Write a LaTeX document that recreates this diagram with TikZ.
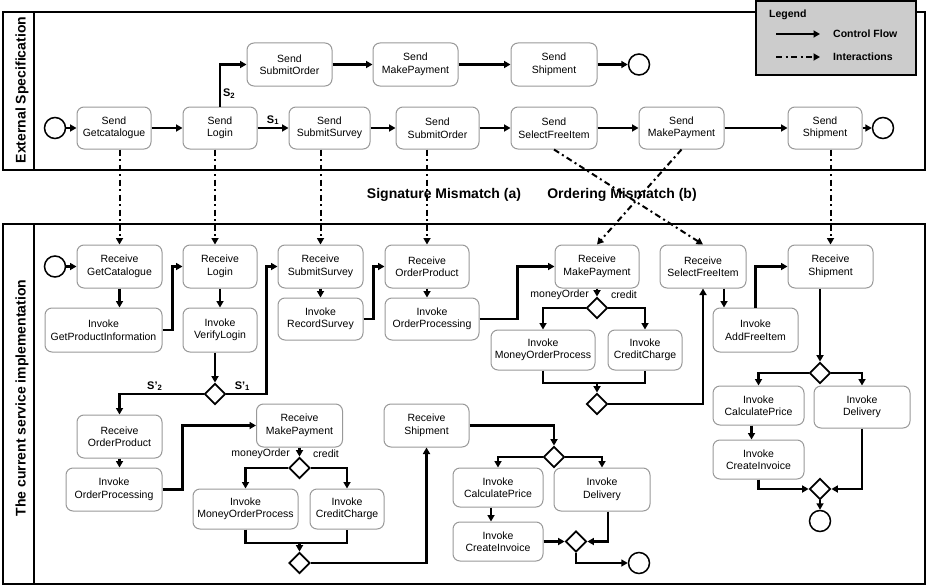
\documentclass[tikz,border=0pt]{standalone}
\usepackage{fontspec}
\setmainfont{Liberation Sans}
\usepackage{tikz}
\usetikzlibrary{positioning}
\usetikzlibrary{shapes.geometric}
\usetikzlibrary{arrows.meta}

\begin{document}
\begin{tikzpicture}[x = 1pt, y = -1pt,
box/.style={draw = black!40, line width = 1pt, fill = white, rounded corners = 7pt, align = center, inner sep = 0pt, minimum height = 42pt, font = \fontsize{10.5}{12.5}\selectfont},
gw/.style={diamond, draw, line width = 1.8pt, fill = white, minimum size = 21pt, inner sep = 0pt},
ev/.style={circle, draw, line width = 1.5pt, fill = white, minimum size = 21pt, inner sep = 0pt},
flow/.style={line width = 2.2pt, -{Triangle[length = 6.5pt, width = 7pt]}},
conn/.style={line width = 2.2pt},
inter/.style={line width = 2pt, dash pattern = on 6pt off 3.5pt on 2pt off 3.5pt, -{Triangle[length = 6.5pt, width = 7pt]}},
lbl/.style={inner sep = 0pt, font = \fontsize{10.5}{12.5}\selectfont},
sl/.style={inner sep = 2pt, font = \bfseries\fontsize{11}{13}\selectfont},
lane/.style={inner sep = 0pt, font = \bfseries\fontsize{14}{16}\selectfont},
lg/.style={inner sep = 0pt, font = \bfseries\fontsize{10.5}{12.5}\selectfont}]
\useasboundingbox (0,0) rectangle (926,586);

\draw[line width = 2pt] (3,12) rectangle (925,170);
\draw[line width = 2pt] (34,12) -- (34,170);
\draw[line width = 2pt] (3,224) rectangle (925,584);
\draw[line width = 2pt] (34,224) -- (34,584);
\node[lane, rotate = 90] (laneExt) at (22,90) {External Specification};
\node[lane, rotate = 90] (laneImpl) at (22,398) {The current service implementation};

\draw[line width = 1.2pt, fill = black!20] (756,1) rectangle (916,75);
\node[lg, anchor = west] (lgTitle) at (769,15) {Legend};
\node[lg, anchor = west] (lgFlow) at (833,34) {Control Flow};
\node[lg, anchor = west] (lgInter) at (833,57) {Interactions};
\draw[flow] ([xshift = -57pt]lgFlow.west) -- ([xshift = -13pt]lgFlow.west);
\draw[inter] ([xshift = -57pt]lgInter.west) -- ([xshift = -13pt]lgInter.west);

\node[ev] (es) at (55,128) {};
\node[box, minimum width = 74pt] (sGet) at (114,128) {Send\\Getcatalogue};
\node[box, minimum width = 74pt] (sLogin) at (220,128) {Send\\Login};
\node[box, minimum width = 81pt] (sSurvey) at (329.5,128) {Send\\SubmitSurvey};
\node[box, minimum width = 83pt] (sOrder) at (437.5,128) {Send\\SubmitOrder};
\node[box, minimum width = 86pt] (sFree) at (554,128) {Send\\SelectFreeItem};
\node[box, minimum width = 85pt] (sPay) at (681.5,128) {Send\\MakePayment};
\node[box, minimum width = 74pt] (sShip) at (825,128) {Send\\Shipment};
\node[ev] (ee) at (883,128) {};
\node[box, minimum width = 85pt, minimum height = 43pt] (sOrder2) at (289.5,64.5) {Send\\SubmitOrder};
\node[box, minimum width = 85pt, minimum height = 43pt] (sPay2) at (415.5,64.5) {Send\\MakePayment};
\node[box, minimum width = 86pt, minimum height = 43pt] (sShip2) at (554,64.5) {Send\\Shipment};
\node[ev] (ee2) at (639,64.5) {};

\draw[flow] (es) -- (sGet);
\draw[flow] (sGet) -- (sLogin);
\draw[flow] (sLogin) -- node[sl, above] {S\textsubscript{1}} (sSurvey);
\draw[flow] (sSurvey) -- (sOrder);
\draw[flow] (sOrder) -- (sFree);
\draw[flow] (sFree) -- (sPay);
\draw[flow] (sPay) -- (sShip);
\draw[flow] (sShip) -- (ee);
\draw[flow] (sLogin.north) |- node[sl, right, pos = .15] {S\textsubscript{2}} (sOrder2);
\draw[flow] (sOrder2) -- (sPay2);
\draw[flow] (sPay2) -- (sShip2);
\draw[flow] (sShip2) -- (ee2);

\node[lane] (sigMis) at (444,195) {Signature Mismatch (a)};
\node[lane] (ordMis) at (622,195) {Ordering Mismatch (b)};

\node[ev] (is) at (55,266.5) {};
\node[box, minimum width = 85pt, minimum height = 43pt] (rGet) at (119.5,266.5) {Receive\\GetCatalogue};
\node[box, minimum width = 117pt, minimum height = 44pt] (iGPI) at (103.5,330) {Invoke\\GetProductInformation};
\node[box, minimum width = 74pt, minimum height = 43pt] (rLogin) at (220,266.5) {Receive\\Login};
\node[box, minimum width = 74pt, minimum height = 44pt] (iVerify) at (220,330) {Invoke\\VerifyLogin};
\node[gw] (dLogin) at (215,394) {};
\node[box, minimum width = 85pt, minimum height = 43pt] (rSurvey) at (320.5,266.5) {Receive\\SubmitSurvey};
\node[box, minimum width = 85pt] (iRecord) at (320.5,319) {Invoke\\RecordSurvey};
\node[box, minimum width = 84pt, minimum height = 43pt] (rOrder) at (427,266.5) {Receive\\OrderProduct};
\node[box, minimum width = 94pt] (iOrderProc) at (432,319) {Invoke\\OrderProcessing};
\node[box, minimum width = 84pt, minimum height = 43pt] (rPay) at (597,266.5) {Receive\\MakePayment};
\node[gw] (dPay) at (597,308) {};
\node[lbl, anchor = east] (moPay) at (589,295) {moneyOrder};
\node[lbl, anchor = west] (crPay) at (611,295) {credit};
\node[box, minimum width = 104pt, minimum height = 40pt] (iMOP) at (543,350) {Invoke\\MoneyOrderProcess};
\node[box, minimum width = 74pt, minimum height = 40pt] (iCC) at (645,350) {Invoke\\CreditCharge};
\coordinate (jPay) at (597,383);
\node[gw] (dPayJ) at (597,404) {};
\node[box, minimum width = 86pt, minimum height = 43pt] (rFree) at (703,266.5) {Receive\\SelectFreeItem};
\node[box, minimum width = 85pt, minimum height = 44pt] (iAdd) at (755.5,330) {Invoke\\AddFreeItem};
\node[box, minimum width = 85pt, minimum height = 43pt] (rShip) at (830.5,266.5) {Receive\\Shipment};
\node[gw] (dShip) at (820,373) {};
\node[box, minimum width = 91pt, minimum height = 39pt] (iCalc) at (758.5,405.5) {Invoke\\CalculatePrice};
\node[box, minimum width = 96pt] (iDel) at (862,407) {Invoke\\Delivery};
\node[box, minimum width = 91pt, minimum height = 39pt] (iInv) at (758.5,459.5) {Invoke\\CreateInvoice};
\node[gw] (dShipJ) at (820,489) {};
\node[ev] (ie) at (820,521) {};

\node[box, minimum width = 85pt, minimum height = 43pt] (rOrder2) at (119.5,436.5) {Receive\\OrderProduct};
\node[box, minimum width = 96pt, minimum height = 43pt] (iOrderProc2) at (114,489.5) {Invoke\\OrderProcessing};
\node[box, minimum width = 86pt, minimum height = 43pt] (rPay2) at (299.5,425.5) {Receive\\MakePayment};
\node[gw] (dPay2) at (299.5,468) {};
\node[lbl, anchor = east] (moPay2) at (290,454) {moneyOrder};
\node[lbl, anchor = west] (crPay2) at (313,454) {credit};
\node[box, minimum width = 105pt, minimum height = 40pt] (iMOP2) at (245.5,509) {Invoke\\MoneyOrderProcess};
\node[box, minimum width = 74pt, minimum height = 40pt] (iCC2) at (347,509) {Invoke\\CreditCharge};
\coordinate (jPay2) at (299.5,543);
\node[gw] (dPay2J) at (299.5,563) {};
\node[box, minimum width = 85pt, minimum height = 43pt] (rShip2) at (426.5,425.5) {Receive\\Shipment};
\node[gw] (dShip2) at (554,457) {};
\node[box, minimum width = 90pt, minimum height = 39pt] (iCalc2) at (498,487.5) {Invoke\\CalculatePrice};
\node[box, minimum width = 96pt, minimum height = 43pt] (iDel2) at (602,489.5) {Invoke\\Delivery};
\node[box, minimum width = 90pt, minimum height = 39pt] (iInv2) at (498,541.5) {Invoke\\CreateInvoice};
\node[gw] (dShip2J) at (576,541.5) {};
\node[ev] (ie2) at (639,563) {};

\draw[inter] (rGet.north |- sGet.south) -- (rGet);
\draw[inter] (sLogin.south -| dLogin) -- (rLogin.north -| dLogin);
\draw[inter] (rSurvey.north |- sSurvey.south) -- (rSurvey);
\draw[inter] (rOrder.north |- sOrder.south) -- (rOrder);
\draw[inter] (sFree.south) -- (rFree.north);
\draw[inter] (sPay.south) -- (rPay.north);
\draw[inter] (rShip.north |- sShip.south) -- (rShip);

\draw[flow] (is) -- (rGet);
\draw[flow] (rGet) -- (rGet |- iGPI.north);
\draw[flow] (iGPI.east) -- ++(10,0) |- (rLogin);
\draw[flow] (rLogin) -- (iVerify);
\draw[flow] (iVerify.south -| dLogin) -- (dLogin);
\draw[flow] (dLogin.east) -- node[sl, above, pos = .4] {S’\textsubscript{1}} ++(40,0) |- (rSurvey);
\draw[flow] (dLogin.west) -| node[sl, above, pos = .29] {S’\textsubscript{2}} (rOrder2);
\draw[flow] (rSurvey) -- (iRecord);
\draw[flow] (iRecord.east) -- ++(10,0) |- (rOrder);
\draw[flow] (rOrder) -- (rOrder |- iOrderProc.north);
\draw[flow] (iOrderProc.east) -- ++(38,0) |- (rPay);
\draw[flow] (rPay) -- (dPay);
\draw[flow] (dPay.west) -| (iMOP);
\draw[flow] (dPay.east) -| (iCC);
\draw[conn] (iMOP) |- (jPay) -| (iCC);
\draw[flow] (jPay) -- (dPayJ);
\draw[flow] (dPayJ.east) -| (rFree);
\draw[flow] ([xshift = 21pt]rFree.south) -- ([xshift = 21pt]rFree.south |- iAdd.north);
\draw[flow] (iAdd) |- (rShip);
\draw[flow] (rShip.south -| dShip) -- (dShip);
\draw[flow] (dShip.west) -| (iCalc);
\draw[flow] (dShip.east) -| (iDel);
\draw[flow] ([xshift = -7pt]iCalc.south) -- ([xshift = -7pt]iInv.north);
\draw[flow] (iInv) |- (dShipJ);
\draw[flow] (iDel) |- (dShipJ);
\draw[flow] (dShipJ) -- (ie);

\draw[flow] (rOrder2) -- (rOrder2 |- iOrderProc2.north);
\draw[flow] (iOrderProc2.east) -- ++(20,0) |- (rPay2);
\draw[flow] (rPay2) -- (dPay2);
\draw[flow] (dPay2.west) -| (iMOP2);
\draw[flow] (dPay2.east) -| (iCC2);
\draw[conn] (iMOP2) |- (jPay2) -| (iCC2);
\draw[flow] (jPay2) -- (dPay2J);
\draw[flow] (dPay2J.east) -| (rShip2);
\draw[flow] (rShip2) -| (dShip2);
\draw[flow] (dShip2.west) -| (iCalc2);
\draw[flow] (dShip2.east) -| (iDel2);
\draw[flow] ([xshift = -7pt]iCalc2.south) -- ([xshift = -7pt]iInv2.north);
\draw[flow] (iInv2) -- (dShip2J);
\draw[flow] ([xshift = 6pt]iDel2.south) |- (dShip2J);
\draw[flow] (dShip2J.south) |- (ie2);
\end{tikzpicture}
\end{document}
